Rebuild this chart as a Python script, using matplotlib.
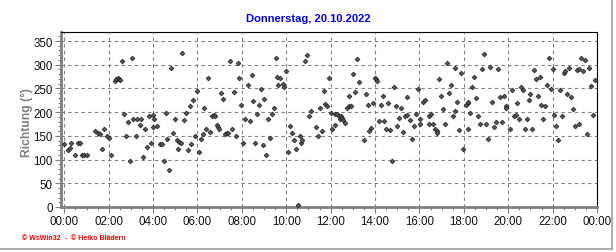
import matplotlib
matplotlib.use("Agg")
import matplotlib.pyplot as plt
from matplotlib.ticker import MultipleLocator, FuncFormatter
from matplotlib.lines import Line2D

title = "Donnerstag, 20.10.2022"
ylabel = "Richtung (°)"
footer = "© WsWin32  -  © Heiko Blädern"

hours = [
    0.0, 0.17, 0.24, 0.32, 0.5, 0.6, 0.69, 0.78, 0.9, 1.0,
    1.39, 1.51, 1.6, 1.7, 1.79, 1.92, 2.03, 2.1, 2.27, 2.34,
    2.4, 2.46, 2.52, 2.61, 2.7, 2.79, 2.88, 2.98, 3.04, 3.1,
    3.22, 3.28, 3.39, 3.47, 3.56, 3.62, 3.71, 3.8, 3.89, 3.98,
    4.04, 4.01, 4.16, 4.31, 4.4, 4.51, 4.6, 4.64, 4.73, 4.82,
    4.91, 5.0, 5.09, 5.13, 5.18, 5.24, 5.31, 5.4, 5.49, 5.58,
    5.67, 5.72, 5.81, 5.9, 5.99, 6.07, 6.16, 6.25, 6.31, 6.39,
    6.48, 6.57, 6.66, 6.75, 6.8, 6.88, 6.93, 6.97, 7.06, 7.15,
    7.24, 7.33, 7.39, 7.46, 7.55, 7.64, 7.73, 7.82, 7.87, 7.96,
    8.05, 8.15, 8.26, 8.35, 8.44, 8.48, 8.57, 8.66, 8.75, 8.84,
    8.93, 8.98, 9.07, 9.16, 9.25, 9.34, 9.43, 9.52, 9.56, 9.64,
    9.73, 9.83, 9.92, 10.01, 10.06, 10.15, 10.24, 10.33, 10.42, 10.51,
    10.6, 10.65, 10.69, 10.83, 10.92, 11.01, 11.1, 11.32, 11.41, 11.5,
    11.59, 11.68, 11.73, 11.82, 11.91, 12.0, 12.08, 12.18, 12.2, 12.29,
    12.38, 12.42, 12.47, 12.51, 12.56, 12.65, 12.75, 12.81, 12.84, 12.93,
    12.99, 13.08, 13.17, 13.26, 13.49, 13.58, 13.67, 13.73, 13.82, 13.91,
    13.98, 14.05, 14.09, 14.17, 14.26, 14.35, 14.39, 14.48, 14.57, 14.66,
    14.75, 14.84, 14.93, 14.98, 15.07, 15.17, 15.25, 15.35, 15.44, 15.44,
    15.56, 15.65, 15.74, 15.83, 15.92, 16.01, 16.03, 16.14, 16.23, 16.41,
    16.45, 16.5, 16.63, 16.72, 16.77, 16.81, 16.9, 16.99, 17.08, 17.13,
    17.22, 17.31, 17.4, 17.49, 17.58, 17.62, 17.71, 17.8, 17.89, 17.98,
    18.08, 18.17, 18.17, 18.21, 18.3, 18.39, 18.48, 18.57, 18.66, 18.75,
    18.8, 18.89, 18.98, 19.07, 19.16, 19.25, 19.38, 19.47, 19.56, 19.65,
    19.74, 19.83, 19.88, 19.92, 20.06, 20.15, 20.24, 20.33, 20.38, 20.47,
    20.56, 20.65, 20.74, 20.83, 20.92, 20.96, 21.05, 21.14, 21.23, 21.32,
    21.41, 21.46, 21.55, 21.64, 21.73, 21.82, 21.91, 22.0, 22.05, 22.14,
    22.23, 22.32, 22.41, 22.5, 22.54, 22.63, 22.72, 22.81, 22.9, 22.99,
    23.08, 23.17, 23.21, 23.3, 23.39, 23.48, 23.57, 23.62, 23.71, 23.8,
    23.89,
]

richtung = [
    132, 120, 125, 136, 110, 134, 134, 110, 110, 110,
    160, 155, 153, 122, 165, 150, 146, 109, 265, 270,
    271, 270, 268, 307, 197, 149, 180, 98, 315, 186,
    149, 186, 173, 185, 106, 165, 127, 191, 136, 194,
    185, 168, 170, 132, 132, 96, 199, 143, 77, 294,
    155, 185, 141, 122, 137, 134, 324, 183, 199, 120,
    214, 132, 225, 150, 244, 117, 143, 153, 209, 164,
    271, 158, 191, 194, 191, 172, 169, 165, 240, 227,
    153, 155, 157, 307, 164, 242, 149, 304, 271, 216,
    136, 185, 257, 181, 279, 224, 134, 197, 216, 248,
    130, 227, 109, 185, 146, 197, 209, 315, 275, 257,
    271, 260, 254, 286, 116, 170, 155, 142, 122, 4,
    149, 134, 141, 308, 320, 191, 203, 168, 149, 208,
    160, 244, 217, 212, 271, 199, 164, 172, 197, 197,
    191, 185, 191, 187, 184, 178, 208, 233, 212, 212,
    280, 242, 313, 263, 141, 239, 216, 160, 166, 219,
    273, 270, 266, 181, 215, 233, 181, 165, 219, 162,
    98, 253, 213, 170, 187, 208, 159, 191, 194, 231,
    183, 143, 170, 197, 248, 185, 176, 222, 225, 192,
    176, 197, 176, 165, 160, 156, 269, 235, 206, 176,
    303, 240, 258, 191, 294, 202, 222, 162, 282, 122,
    216, 220, 164, 222, 199, 254, 275, 229, 191, 176,
    290, 322, 174, 143, 296, 222, 168, 180, 292, 231,
    180, 233, 212, 208, 165, 246, 191, 195, 219, 185,
    252, 246, 164, 185, 225, 238, 165, 288, 269, 233,
    275, 216, 185, 214, 258, 315, 248, 292, 195, 170,
    141, 246, 191, 282, 286, 239, 294, 231, 206, 170,
    288, 292, 176, 315, 286, 309, 153, 294, 256, 193,
    267,
]

plt.rcParams['font.family'] = ['Liberation Sans', 'DejaVu Sans']

fig = plt.figure(figsize=(6.16, 2.53), dpi=100)
fig.patch.set_facecolor('white')
ax = fig.add_axes([61/616, 1 - 208/253, (597-61)/616, (208-33)/253])

ax.scatter(hours, richtung, marker='D', s=6, c='#555555', edgecolors='#222222',
           linewidths=0.5, zorder=3, clip_on=False)

ax.set_xlim(-0.15, 24)
ax.set_ylim(0, 369)

ax.xaxis.set_major_locator(MultipleLocator(2))
ax.xaxis.set_minor_locator(MultipleLocator(0.5))
ax.yaxis.set_major_locator(MultipleLocator(50))
ax.yaxis.set_minor_locator(MultipleLocator(10))
ax.xaxis.set_major_formatter(FuncFormatter(lambda v, p: "%02d:00" % (int(round(v)) % 24)))

ax.grid(True, which='major', color='#808080', linestyle=(0, (3, 3)), linewidth=0.8)
ax.set_axisbelow(True)

for s in ['top', 'right']:
    ax.spines[s].set_color('black')
    ax.spines[s].set_linewidth(0.8)
for s in ['left', 'bottom']:
    ax.spines[s].set_color('#808080')
    ax.spines[s].set_linewidth(2.0)

ax.tick_params(which='major', length=4, width=0.8, color='#808080', labelsize=8.3,
               labelcolor='#111111', pad=2)
ax.tick_params(which='minor', length=2.5, width=0.8, color='#808080')

ax.set_ylabel(ylabel, color='#808080', fontsize=8.7, fontweight='bold', va='center')
ax.yaxis.set_label_coords(-0.063, 0.49)

fig.text(308/616, 1 - 19/253, title, color='#0000ff', fontsize=8, fontweight='bold',
         ha='center', va='center')
fig.text(22/616, 1 - 239/253, footer, color='#ff0000', fontsize=5, fontweight='bold',
         ha='left', va='center')

fig.add_artist(Line2D([612/616, 612/616], [1 - 250/253, 1], color='#a0a0a0', linewidth=1.2,
                      transform=fig.transFigure))
fig.add_artist(Line2D([0, 612/616], [1 - 250/253, 1 - 250/253], color='#a0a0a0', linewidth=1.2,
                      transform=fig.transFigure))

fig.savefig('out.png', dpi=100, facecolor='white')
